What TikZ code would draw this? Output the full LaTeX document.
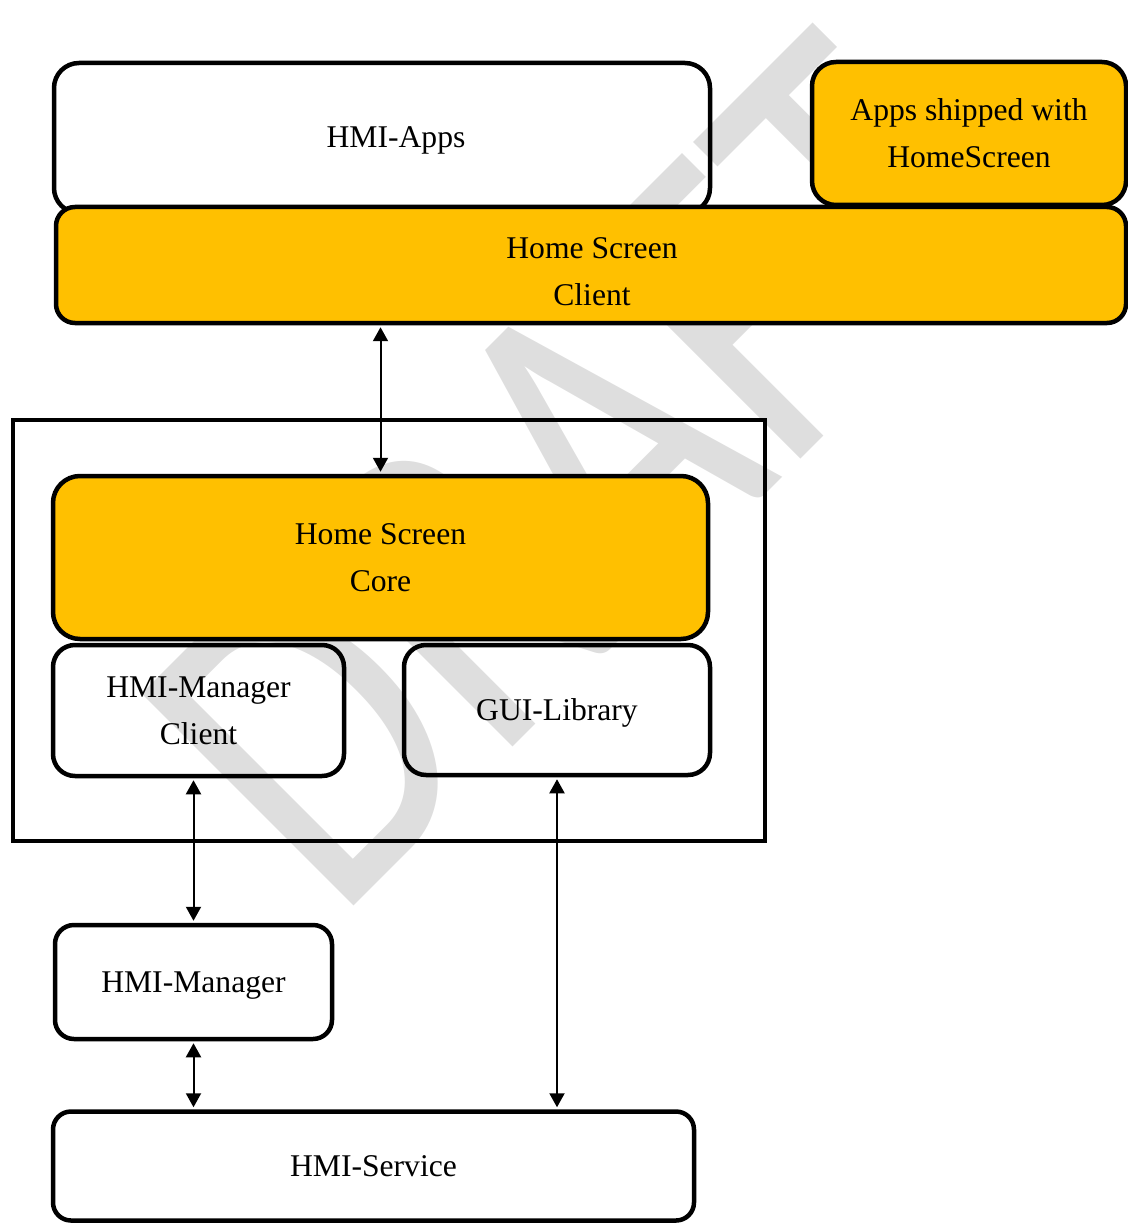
\documentclass[tikz,border=0pt]{standalone}
\usepackage{fontspec}
\setmainfont{Liberation Serif}
\newfontfamily\wmfont{Carlito}
\usetikzlibrary{arrows.meta}
\newdimen\upx \upx=0.02cm
\definecolor{hsorange}{HTML}{FFC000}
\definecolor{wmgray}{RGB}{222,222,222}
\begin{document}
\begin{tikzpicture}[x=0.02cm,y=-0.02cm,
  txt/.style={inner sep=0pt, align=center, font=\fontsize{18}{26.6}\selectfont},
  one/.style={text height=11.9pt, text depth=0pt},
  box/.style={draw=black, line width=4.5\upx, inner sep=0pt, align=center, font=\fontsize{18}{26.6}\selectfont},
  obox/.style={box, fill=hsorange},
  frm/.style={draw=black, line width=4\upx, inner sep=0pt},
  link/.style={line width=0.04cm, {Triangle[length=0.28cm,width=0.3cm]}-{Triangle[length=0.28cm,width=0.3cm]}, shorten <=0.04cm, shorten >=0.04cm},
  wm/.style={text=wmgray, inner sep=0pt, anchor=base west, rotate=45, xscale=0.78, transform shape, font=\wmfont\fontsize{266}{266}\selectfont}
]
\useasboundingbox (0,0) rectangle (1128,1226);
\clip (0,0) rectangle (1128,1226);
% watermark
\begin{scope}[shift={(336,924)}]
  \node[wm] (wmark) at (0,0) {DRAFT};
\end{scope}
% top layer
\node[box, minimum width=656\upx, minimum height=150\upx, rounded corners=25\upx] (apps) at (382,138) {};
\node[txt, one] (appst) at (396,137) {HMI-Apps};
\node[obox, minimum width=314\upx, minimum height=143\upx, rounded corners=24\upx] (ship) at (969,133.5) {Apps shipped with\\HomeScreen};
\node[obox, minimum width=1070\upx, minimum height=116\upx, rounded corners=19\upx] (client) at (591,265) {};
\node[txt] (clientt) at (592,272) {Home Screen\\Client};
% framed group
\node[frm, minimum width=752\upx, minimum height=421\upx] (frame) at (389,630.5) {};
\node[obox, minimum width=655\upx, minimum height=163\upx, rounded corners=27\upx] (core) at (380.5,557.5) {Home Screen\\Core};
\node[box, minimum width=291\upx, minimum height=131\upx, rounded corners=22\upx] (mgrc) at (198.5,710.5) {HMI-Manager\\Client};
\node[box, one, minimum width=306\upx, minimum height=130\upx, rounded corners=22\upx] (gui) at (557,710) {GUI-Library};
% bottom
\node[box, one, minimum width=277\upx, minimum height=114\upx, rounded corners=19\upx] (mgr) at (193.5,982) {HMI-Manager};
\node[box, one, minimum width=641\upx, minimum height=109\upx, rounded corners=18\upx] (svc) at (373.5,1166) {HMI-Service};
% connectors
\draw[link] (client.south -| core.north) -- (core.north);
\draw[link] (mgrc.south -| mgr.north) -- (mgr.north);
\draw[link] (gui.south) -- (gui.south |- svc.north);
\draw[link] (mgr.south) -- (mgr.south |- svc.north);
\end{tikzpicture}
\end{document}
